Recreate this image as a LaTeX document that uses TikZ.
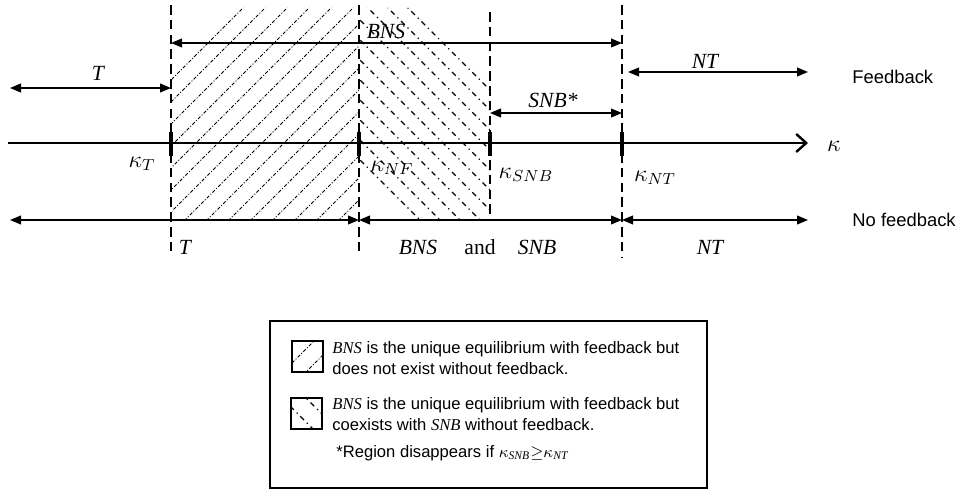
\documentclass[tikz,border=0pt]{standalone}
\usepackage{fontspec}
\setmainfont{Liberation Serif}
\setsansfont{Liberation Sans}
\usetikzlibrary{arrows.meta}
\begin{document}
\begin{tikzpicture}[x=0.5pt,y=-0.5pt,
  vdash/.style={line width=0.7pt, dash pattern=on 4.8pt off 2.6pt},
  dbl/.style={line width=0.7pt, {Triangle[length=5.5pt,width=4.4pt]}-{Triangle[length=5.5pt,width=4.4pt]}},
  axisline/.style={line width=1.35pt, -{Straight Barb[length=5pt,width=9pt,line width=1.2pt]}},
  tickmark/.style={line width=1.7pt},
  hatchA/.style={line width=0.45pt, dash pattern=on 1.7pt off 0.9pt on 0.5pt off 0.9pt},
  hatchB/.style={line width=0.55pt, dash pattern=on 2.6pt off 2pt on 0.6pt off 2pt},
  lbl/.style={font=\fontsize{10.8}{12}\selectfont\itshape, inner sep=0pt},
  mlbl/.style={font=\fontsize{11.5}{13}\selectfont, inner sep=0pt},
  andlbl/.style={font=\fontsize{10.8}{12}\selectfont, inner sep=0pt},
  side/.style={font=\sffamily\fontsize{9.2}{11}\selectfont, anchor=west, inner sep=0pt},
  leg/.style={font=\sffamily\fontsize{8.3}{10}\selectfont, anchor=west, inner sep=0pt},
  legbox/.style={line width=0.6pt},
  swatch/.style={line width=0.6pt}
]
\useasboundingbox (0,0) rectangle (960,491);

% hatched region 1
\begin{scope}
\clip (172,78) -- (241,8) -- (359,8) -- (359,220) -- (172,220) -- cycle;
\foreach \c in {251,273,...,580} \draw[hatchA] ({\c-300},300) -- ({\c+10},-10);
\end{scope}
% hatched region 2
\begin{scope}
\clip (359,8) -- (410,8) -- (490,88) -- (490,220) -- (418,220) -- (359,161) -- cycle;
\foreach \c in {-400,-380,...,-199} \draw[hatchB] (340,{340+\c}) -- (520,{520+\c});
\end{scope}

% coordinates
\coordinate (d1t) at (171,5);   \coordinate (d1b) at (171,255);
\coordinate (d2t) at (359,5);   \coordinate (d2b) at (359,255);
\coordinate (d3t) at (490,12);  \coordinate (d3b) at (490,218);
\coordinate (d4t) at (622,5);   \coordinate (d4b) at (622,258);
\coordinate (tfL) at (10,88);   \coordinate (tfR) at (171,88);
\coordinate (bnsL) at (171,43); \coordinate (bnsR) at (622,43);
\coordinate (ntL) at (628,72);  \coordinate (ntR) at (808,72);
\coordinate (snbL) at (490,113);\coordinate (snbR) at (622,113);
\coordinate (axL) at (8,143);   \coordinate (axR) at (808,143);
\coordinate (nf0) at (10,220);  \coordinate (nf1) at (359,220);
\coordinate (nf2) at (622,220); \coordinate (nf3) at (808,220);

% dashed verticals
\draw[vdash] (d1t) -- (d1b);
\draw[vdash] (d2t) -- (d2b);
\draw[vdash] (d3t) -- (d3b);
\draw[vdash] (d4t) -- (d4b);

% feedback arrows
\draw[dbl] (tfL) -- (tfR);
\draw[dbl] (bnsL) -- (bnsR);
\draw[dbl] (ntL) -- (ntR);
\draw[dbl] (snbL) -- (snbR);

% axis
\draw[axisline] (axL) -- (axR);
\foreach \x in {171,359,490,622} \draw[tickmark] (\x,132) -- (\x,156);

% no feedback arrows
\draw[dbl] (nf0) -- (nf1);
\draw[dbl] (nf1) -- (nf2);
\draw[dbl] (nf2) -- (nf3);

% labels
\node[lbl] (lT1) at (98,73) {T};
\node[lbl] (lBNS1) at (386,31) {BNS};
\node[lbl] (lNT1) at (705,61) {NT};
\node[lbl] (lSNB1) at (553,100) {SNB*};
\node[mlbl] (kap) at (834,146) {$\kappa$};
\node[mlbl] (kT) at (142,164) {$\kappa_T$};
\node[mlbl] (kNF) at (392,168) {$\kappa_{NF}$};
\node[mlbl] (kSNB) at (526,175) {$\kappa_{SNB}$};
\node[mlbl] (kNT) at (655,178) {$\kappa_{NT}$};
\node[lbl] (lT2) at (185,247) {T};
\node[lbl] (lBNS2) at (418,247) {BNS};
\node[andlbl] (land) at (480,247) {and};
\node[lbl] (lSNB2) at (537,247) {SNB};
\node[lbl] (lNT2) at (710,247) {NT};
\node[side] (fb) at (852,77) {Feedback};
\node[side] (nfb) at (852,220) {No feedback};

% legend
\draw[legbox] (270,321) rectangle (707,488);
\begin{scope}
\clip (292,341) rectangle (323,372);
\foreach \c in {655,678} \draw[hatchA] ({\c-380},380) -- ({\c-330},330);
\end{scope}
\draw[swatch] (292,341) rectangle (323,372);
\begin{scope}
\clip (291,398) rectangle (322,429);
\foreach \c in {92,116} \draw[hatchB] (280,{280+\c}) -- (330,{330+\c});
\end{scope}
\draw[swatch] (291,398) rectangle (322,429);
\node[leg] (t1) at (332,349) {\rmfamily\itshape BNS\/\sffamily\upshape{} is the unique equilibrium with feedback but};
\node[leg] (t2) at (332,369) {does not exist without feedback.};
\node[leg] (t3) at (332,405) {\rmfamily\itshape BNS\/\sffamily\upshape{} is the unique equilibrium with feedback but};
\node[leg] (t4) at (332,425) {coexists with \rmfamily\itshape SNB\/\sffamily\upshape{} without feedback.};
\node[leg] (t5) at (336,453) {*Region disappears if $\kappa_{\mathit{SNB}}{\geq}\kappa_{\mathit{NT}}$};
\end{tikzpicture}
\end{document}
